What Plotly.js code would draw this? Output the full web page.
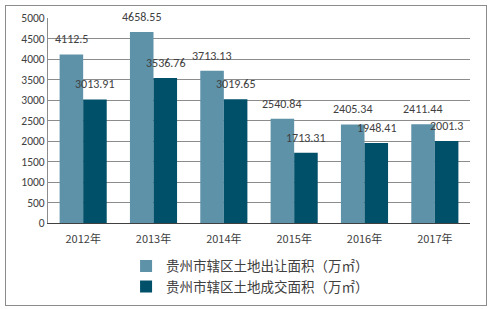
<!DOCTYPE html>
<html><head><meta charset="utf-8">
<script src="https://cdn.plot.ly/plotly-3.0.1.min.js"></script>
<style>
html,body{margin:0;padding:0;background:#fff;}
#frame{position:absolute;left:5px;top:5px;width:480px;height:299px;border:1px solid #8c8c8c;}
#chart{position:absolute;left:0;top:0;width:491px;height:309px;}
</style></head>
<body>
<div id="frame"></div>
<div id="chart"></div>
<script>
var years = ["2012年","2013年","2014年","2015年","2016年","2017年"];
var transferArea = [4112.5, 4658.55, 3713.13, 2540.84, 2405.34, 2411.44];
var dealArea = [3013.91, 3536.76, 3019.65, 1713.31, 1948.41, 2001.3];
var seriesNames = ["贵州市辖区土地出让面积（万㎡）","贵州市辖区土地成交面积（万㎡）"];

var font = "Calibri, Carlito, 'Liberation Sans', 'Noto Sans CJK SC', sans-serif";
function tr(vals, name, color){
  return {type:'bar', x:years, y:vals, name:name, marker:{color:color}, hoverinfo:'none'};
}
var data = [tr(transferArea, seriesNames[0], '#5e92a9'), tr(dealArea, seriesNames[1], '#00506a')];
var annotations = [];
[[transferArea,-12],[dealArea,12]].forEach(function(p){
  p[0].forEach(function(v,i){
    annotations.push({x:years[i], y:v, xref:'x', yref:'y', text:String(v), showarrow:false,
      xshift:p[1], yshift:15, font:{family:font, size:12, color:'#404040'}});
  });
});
var layout = {
  width:491, height:309, paper_bgcolor:'rgba(0,0,0,0)', plot_bgcolor:'rgba(0,0,0,0)',
  margin:{l:48, r:21, t:18, b:86, autoexpand:false},
  barmode:'group', bargap:0.33, bargroupgap:0,
  font:{family:font, size:11, color:'#404040'},
  annotations:annotations,
  xaxis:{type:'category', showgrid:false, ticks:'', showline:true, linecolor:'#404040', linewidth:1,
    ticklabelstandoff:6, automargin:false,
    tickfont:{family:"'Noto Sans CJK SC', sans-serif", size:11, color:'#404040'}},
  yaxis:{range:[0,5000], dtick:500, showgrid:true, gridcolor:'#8c8c8c', gridwidth:1,
    showline:true, linecolor:'#8c8c8c', ticks:'', zeroline:false, automargin:false,
    tickfont:{family:font, size:11.5, color:'#404040'}},
  showlegend:true,
  legend:{orientation:'v', x:0.185, xanchor:'left', y:-0.135, yanchor:'top',
    font:{family:"'Noto Sans CJK SC', sans-serif", size:13.5, color:'#404040'},
    itemclick:false, bgcolor:'rgba(0,0,0,0)', tracegroupgap:0}
};
Plotly.newPlot('chart', data, layout, {displayModeBar:false, staticPlot:true});
</script>
</body></html>
